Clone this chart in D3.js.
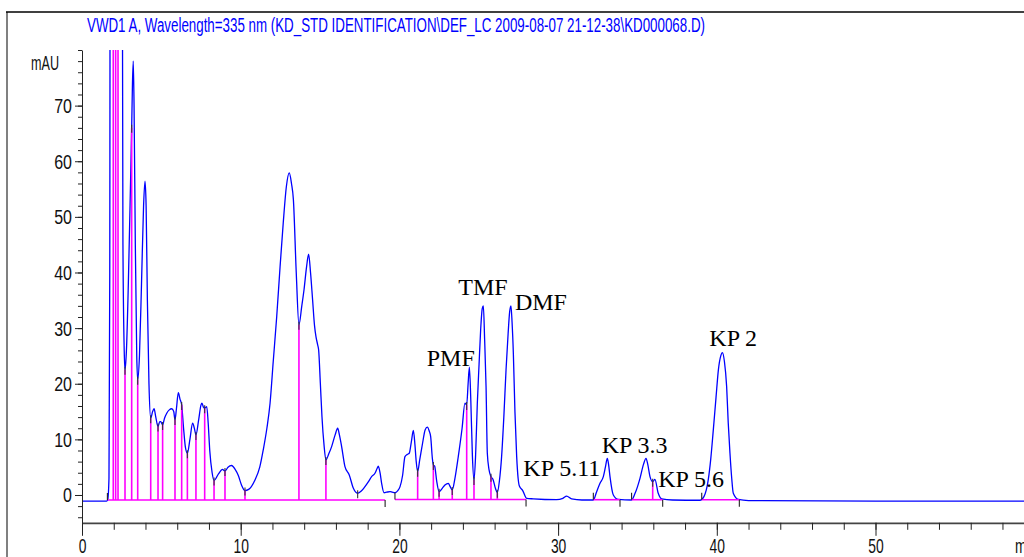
<!DOCTYPE html>
<html><head><meta charset="utf-8">
<script src="https://cdn.jsdelivr.net/npm/d3@7"></script>
<style>body{margin:0;background:#fff;} svg{display:block;}</style>
</head><body><svg id="c" width="1024" height="557"></svg>
<script>
// ---------------- DATA ----------------
const titleText = "VWD1 A, Wavelength=335 nm (KD_STD IDENTIFICATION\\DEF_LC 2009-08-07 21-12-38\\KD000068.D)";
const yUnit = "mAU";
const xMajorTicks = [0, 10, 20, 30, 40, 50];
const xMinorTicks = d3.range(0, 61, 2);
const yMajorTicks = [0, 10, 20, 30, 40, 50, 60, 70];
const yMinorTicks = d3.range(-4, 81, 2);

// chromatogram trace [time (min), signal (mAU)]
const chromatogram = [
  [0,-1.1],[1.55,-1.1],[1.62,-0.9],[1.70,3],[1.75,40],[1.78,120],[2.52,120],[2.58,45],[2.66,26],[2.71,22.5],
  [2.80,26],[2.92,38],[3.05,55],[3.13,66],[3.18,74],[3.23,78],[3.28,70],[3.36,45],[3.45,25],[3.51,20.7],
  [3.62,25],[3.75,38],[3.88,52],[3.97,56.4],[4.04,52],[4.12,35],[4.22,20],[4.33,13.8],[4.45,15],[4.54,15.5],
  [4.65,14],[4.79,12.3],[4.90,13.2],[4.96,13.2],[5.08,12.6],[5.20,13.8],[5.34,14.7],[5.50,15.3],[5.65,15.5],[5.78,15],
  [5.86,13.5],[5.95,15.5],[6.07,18.4],[6.18,17.2],[6.28,16.2],[6.40,12],[6.52,8.5],[6.64,7.5],[6.80,10],[6.97,12.9],
  [7.08,12],[7.18,10.8],[7.35,13.5],[7.50,16.2],[7.56,16.5],[7.65,15.8],[7.73,15.6],[7.86,15.9],[7.95,13],[8.05,8],
  [8.20,4],[8.32,2.6],[8.60,3.8],[8.85,4.6],[9.01,4.3],[9.20,5.0],[9.43,5.3],[9.65,4.6],[9.85,3.5],[10.05,1.8],
  [10.27,0.8],[10.50,1.0],[10.90,2.7],[11.20,5],[11.42,8.1],[11.65,12],[11.85,16.5],[12.05,24],[12.27,32.1],[12.48,41],
  [12.68,48.9],[12.88,55.5],[13.06,57.9],[13.20,56],[13.32,53.1],[13.50,40],[13.67,30.6],[13.85,34],[13.99,36.9],[14.15,41],
  [14.28,43.3],[14.40,40],[14.53,35.1],[14.65,30.5],[14.74,28.5],[14.85,27],[14.91,26.1],[15.02,20],[15.12,14.1],[15.25,9],
  [15.37,6.3],[15.55,7.4],[15.73,8.7],[15.95,10.8],[16.11,12.0],[16.22,10.8],[16.36,8.7],[16.57,5.1],[16.84,3.6],[17.10,1.2],
  [17.37,0.3],[17.60,0.7],[17.83,1.5],[18.05,2.4],[18.25,3.3],[18.46,3.9],[18.60,4.8],[18.67,5.2],[18.78,4.0],[18.88,2.1],
  [19.03,0.4],[19.20,0.5],[19.41,0.6],[19.55,0.5],[19.72,0.4],[19.90,0.8],[20.04,1.5],[20.20,3.5],[20.35,6.9],[20.50,7.3],
  [20.62,7.5],[20.75,9.5],[20.88,11.6],[20.98,9],[21.06,6],[21.15,4.2],[21.28,6.3],[21.46,9.3],[21.62,11.7],[21.76,12.2],
  [21.88,11.5],[21.97,10.5],[22.08,6.5],[22.14,5.4],[22.22,5.2],[22.35,2.5],[22.50,0.6],[22.70,1.2],[22.87,1.8],[23.08,2.1],
  [23.20,1.5],[23.33,0.9],[23.50,3],[23.71,6.9],[23.95,12],[24.13,16.5],[24.24,16.2],[24.33,20],[24.41,23.0],[24.50,17],
  [24.60,7],[24.70,2.7],[24.80,7],[24.91,16.5],[25.02,23.5],[25.12,29.7],[25.22,33.5],[25.29,34.0],[25.37,28],[25.46,19.5],
  [25.54,7.5],[25.65,4.5],[25.77,3.3],[25.90,2.8],[26.05,1.2],[26.17,0.4],[26.30,2.5],[26.44,6.9],[26.58,14],[26.72,22.5],
  [26.85,29],[26.95,33],[27.03,34.0],[27.10,31],[27.18,25.5],[27.28,15],[27.39,6.9],[27.48,3],[27.56,1.6],[27.77,0.8],
  [28.02,-0.6],[28.44,-0.7],[29.90,-0.85],[30.30,-0.6],[30.54,-0.2],[30.85,-0.7],[31.50,-0.9],[32.22,-0.9],[32.43,0.6],[32.64,2.1],
  [32.85,3.3],[32.98,5],[33.10,6.6],[33.18,5.5],[33.27,3.3],[33.48,0],[33.79,-0.8],[34.63,-0.9],[34.85,0.3],[35.16,3.0],
  [35.38,5.5],[35.54,6.6],[35.65,5.5],[35.79,3.3],[35.96,2.4],[36.10,2.8],[36.31,0.3],[36.53,-0.7],[37.20,-0.9],[38.94,-0.95],
  [39.19,-0.3],[39.46,2.7],[39.62,6.5],[39.78,11.7],[39.95,17.5],[40.10,22.5],[40.25,25],[40.35,25.6],[40.48,24],[40.62,19.5],
  [40.72,13],[40.83,7.5],[40.94,3],[41.04,0.3],[41.35,-0.8],[42.00,-1.0],[50.00,-1.1],[60.00,-1.1]
];

// integration baseline segments [start time, end time, level mAU]
const baselineStart = [1.62, 19.72, 32.22, 34.63, 39.05];
const baselineEnd   = [19.10, 27.98, 33.90, 36.59, 41.42];
const baselineLevel = [-0.9, -0.8, -0.85, -0.85, -0.85];

// peak drop lines [time, signal at valley]
const dropTime = [1.97,2.12,2.27,2.71,3.13,3.51,4.33,4.79,5.08,5.86,6.28,6.64,7.18,7.73,8.32,9.01,10.27,13.67,15.37,21.15,22.14,22.50,23.33,24.24,24.70,25.77,26.17,35.96];
const dropMAU  = [120,120,120,22.5,66,20.7,13.8,12.3,12.6,13.5,16.2,7.5,10.8,15.6,2.6,4.3,0.8,30.6,6.3,4.2,5.4,0.6,0.9,16.2,2.7,3.3,0.4,2.4];

// valley marks without a drop line
const valleyTime = [17.37];
const valleyMAU  = [0.3];

// peak start / end event marks on the baseline
const startMarks = [1.60, 19.72, 32.22, 34.63, 39.05];
const endMarks   = [19.10, 27.98, 33.90, 36.59, 41.42];

// peak annotations: name, anchor time, anchor mAU (left baseline of the text)
const peakNames = ["PMF","TMF","DMF","KP 5.11","KP 3.3","KP 5.6","KP 2"];
const peakLabelTime = [21.72, 23.71, 27.28, 27.81, 32.75, 36.31, 39.53];
const peakLabelMAU  = [23.1, 36.0, 33.3, 3.4, 7.5, 1.5, 26.8];

// ---------------- CHART ----------------
const svg = d3.select("#c");
const x = d3.scaleLinear().domain([0, 60]).range([82, 1034.2]);
const y = d3.scaleLinear().domain([-5, 80]).range([522.8, 50]);
const sans = "'Liberation Sans', Arial, sans-serif";

// frame
svg.append("line").attr("x1",7).attr("x2",7).attr("y1",12).attr("y2",557).attr("stroke","#808080").attr("stroke-width",2);
svg.append("line").attr("x1",6).attr("x2",1024).attr("y1",12).attr("y2",12).attr("stroke","#000").attr("stroke-width",1.6);

// title
svg.append("text").attr("x",87).attr("y",32)
  .attr("font-family",sans).attr("font-size",19.5)
  .attr("fill","#0000ff").attr("textLength",618).attr("lengthAdjust","spacingAndGlyphs")
  .text(titleText);

// clip
svg.append("defs").append("clipPath").attr("id","plot")
  .append("rect").attr("x",82).attr("y",50).attr("width",942).attr("height",473);

const plot = svg.append("g").attr("clip-path","url(#plot)");

// trace
const line = d3.line().x(d => x(d[0])).y(d => y(d[1])).curve(d3.curveMonotoneX);
plot.append("path").datum(chromatogram).attr("d", line)
  .attr("fill","none").attr("stroke","#0000ff").attr("stroke-width",1.3);

// integration baselines
plot.selectAll(".bl").data(baselineStart).join("line")
  .attr("x1",(d)=>x(d)).attr("x2",(d,i)=>x(baselineEnd[i]))
  .attr("y1",(d,i)=>y(baselineLevel[i])).attr("y2",(d,i)=>y(baselineLevel[i]))
  .attr("stroke","#ff00ff").attr("stroke-width",1.6);

// drop lines
function levelAt(t){
  for (let i=0;i<baselineStart.length;i++) if (t>=baselineStart[i] && t<=baselineEnd[i]) return baselineLevel[i];
  return -0.9;
}
plot.selectAll(".dl").data(dropTime).join("line")
  .attr("x1",d=>x(d)).attr("x2",d=>x(d))
  .attr("y1",d=>y(levelAt(d))).attr("y2",(d,i)=>y(dropMAU[i]))
  .attr("stroke","#ff00ff").attr("stroke-width",1.6);

// valley marks on the curve
const vt = dropTime.concat(valleyTime), vv = dropMAU.concat(valleyMAU);
plot.selectAll(".vm").data(vt).join("line")
  .attr("x1",d=>x(d)).attr("x2",d=>x(d))
  .attr("y1",(d,i)=>y(vv[i])-3).attr("y2",(d,i)=>y(vv[i])+5)
  .attr("stroke","#333").attr("stroke-width",1.1);

// start / end event marks
plot.selectAll(".sm").data(startMarks).join("line")
  .attr("x1",d=>x(d)).attr("x2",d=>x(d))
  .attr("y1",d=>y(levelAt(d))-7).attr("y2",d=>y(levelAt(d)))
  .attr("stroke","#222").attr("stroke-width",1.1);
svg.selectAll(".em").data(endMarks).join("line")
  .attr("x1",d=>x(d)).attr("x2",d=>x(d))
  .attr("y1",d=>y(levelAt(d))).attr("y2",d=>y(levelAt(d))+7)
  .attr("stroke","#222").attr("stroke-width",1.1);

// y axis
const yAxisMinor = d3.axisLeft(y).tickValues(yMinorTicks).tickSize(4).tickSizeOuter(0).tickFormat("");
const yAxisMajor = d3.axisLeft(y).tickValues(yMajorTicks).tickSize(7).tickSizeOuter(0).tickFormat("");
const gy1 = svg.append("g").attr("transform","translate(82,0)").call(yAxisMinor);
const gy2 = svg.append("g").attr("transform","translate(82,0)").call(yAxisMajor);
gy2.select(".domain").remove();
[gy1, gy2].forEach(g => { g.selectAll("line").attr("stroke","#222"); g.select(".domain").attr("stroke","#222"); });
svg.selectAll(".ylab").data(yMajorTicks).join("text")
  .attr("transform", d => `translate(72,${y(d)+7.5}) scale(0.8,1)`)
  .attr("text-anchor","end").attr("font-family",sans)
  .attr("font-size",20).attr("fill","#111").text(d => d);
svg.append("text").attr("x",31).attr("y",70).attr("textLength",28).attr("lengthAdjust","spacingAndGlyphs")
  .attr("font-family",sans).attr("font-size",19.5).attr("fill","#111").text(yUnit);

// x axis
const xAxisMinor = d3.axisBottom(x).tickValues(xMinorTicks).tickSize(7).tickSizeOuter(0).tickFormat("");
const xAxisMajor = d3.axisBottom(x).tickValues(xMajorTicks).tickSize(13).tickSizeOuter(0).tickFormat("");
const gx1 = svg.append("g").attr("transform","translate(0,522.8)").call(xAxisMinor);
const gx2 = svg.append("g").attr("transform","translate(0,522.8)").call(xAxisMajor);
gx2.select(".domain").remove();
gx1.select(".domain").attr("stroke","#444").attr("stroke-width",1.8);
[gx1, gx2].forEach(g => g.selectAll(".tick line").attr("stroke","#222"));
svg.selectAll(".xlab").data(xMajorTicks).join("text")
  .attr("transform", d => `translate(${x(d)+0.5},553) scale(0.66,1)`)
  .attr("text-anchor","middle").attr("font-family",sans)
  .attr("font-size",21).attr("fill","#111").text(d => d);
svg.append("text").attr("transform","translate(1015,553) scale(0.66,1)")
  .attr("font-family",sans).attr("font-size",21).attr("fill","#111").text("min");

// peak annotations
svg.selectAll(".pk").data(peakNames).join("text")
  .attr("x",(d,i)=>x(peakLabelTime[i])).attr("y",(d,i)=>y(peakLabelMAU[i]))
  .attr("font-family","'Liberation Serif', 'Times New Roman', serif").attr("font-size",24)
  .attr("fill","#000").text(d => d);
</script>
</body></html>
